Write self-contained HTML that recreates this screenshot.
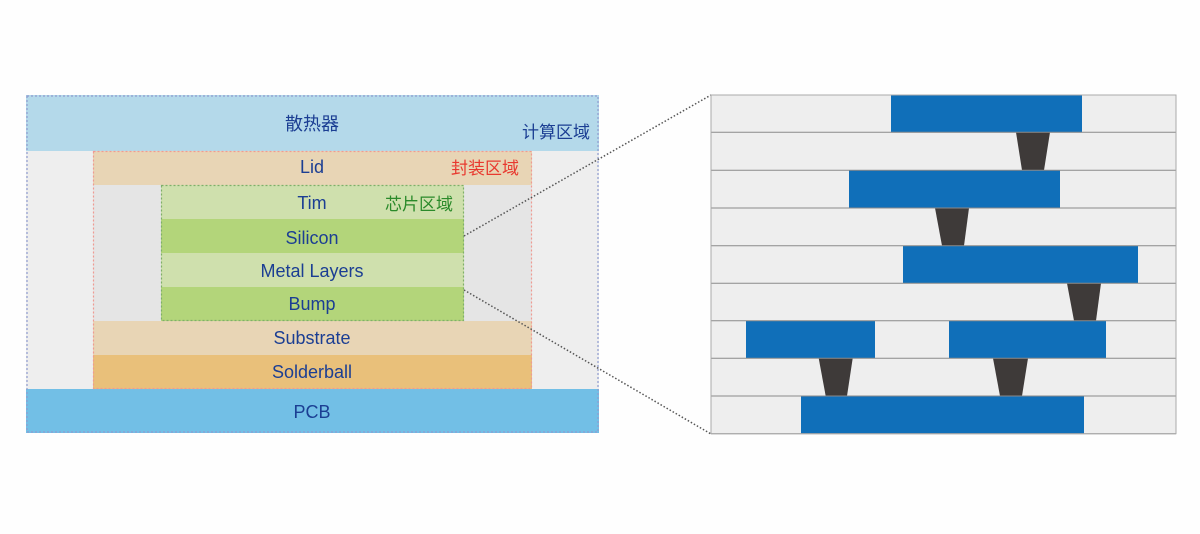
<!DOCTYPE html>
<html><head><meta charset="utf-8"><style>
html,body{margin:0;padding:0;background:#fefefe;width:1200px;height:534px;overflow:hidden}
text{font-family:"Liberation Sans","Noto Sans CJK SC",sans-serif}
</style></head><body>
<svg width="1200" height="534" viewBox="0 0 1200 534" xmlns="http://www.w3.org/2000/svg">
<!-- left diagram -->
<rect x="26" y="95" width="573" height="338" fill="#eeeeee"/>
<rect x="26" y="95" width="573" height="56" fill="#b4d9ea"/>
<rect x="93" y="151" width="439" height="238" fill="#e5e5e5"/>
<rect x="93" y="151" width="439" height="34" fill="#e8d5b5"/>
<rect x="161" y="185" width="303" height="34" fill="#cfe0ad"/>
<rect x="161" y="219" width="303" height="34" fill="#b3d57a"/>
<rect x="161" y="253" width="303" height="34" fill="#cfe0ad"/>
<rect x="161" y="287" width="303" height="34" fill="#b3d57a"/>
<rect x="93" y="321" width="439" height="34" fill="#e8d5b5"/>
<rect x="93" y="355" width="439" height="34" fill="#e9c07a"/>
<rect x="26" y="389" width="573" height="44" fill="#72bfe6"/>
<!-- dotted region borders -->
<rect x="27" y="96" width="571" height="336" fill="none" stroke="#8f9ccf" stroke-width="1.2" stroke-dasharray="2,2"/>
<rect x="93.5" y="151.5" width="438" height="237" fill="none" stroke="#ef9a93" stroke-width="1.2" stroke-dasharray="2,2"/>
<rect x="161.5" y="185.5" width="302" height="135" fill="none" stroke="#7fae6a" stroke-width="1.2" stroke-dasharray="2,2"/>
<g fill="#1b3e93" font-size="18" text-anchor="middle">
<text x="312" y="130">散热器</text>
<text x="312" y="173">Lid</text>
<text x="312" y="209">Tim</text>
<text x="312" y="244">Silicon</text>
<text x="312" y="277">Metal Layers</text>
<text x="312" y="310">Bump</text>
<text x="312" y="344">Substrate</text>
<text x="312" y="378">Solderball</text>
<text x="312" y="418">PCB</text>
</g>
<text x="556" y="138" font-size="17" fill="#1b3e93" text-anchor="middle">计算区域</text>
<text x="485" y="174" font-size="17" fill="#e8392f" text-anchor="middle">封装区域</text>
<text x="419" y="210" font-size="17" fill="#2a8a2a" text-anchor="middle">芯片区域</text>
<!-- connectors -->
<line x1="464" y1="236" x2="711" y2="95" stroke="#555" stroke-width="1.5" stroke-dasharray="1.5,2"/>
<line x1="464" y1="290" x2="711" y2="434" stroke="#555" stroke-width="1.5" stroke-dasharray="1.5,2"/>
<!-- right panel -->
<rect x="711" y="95" width="465" height="339" fill="#eeeeee"/>
<g fill="#106fb9">
<rect x="891" y="95" width="191" height="37.6"/>
<rect x="849" y="170.3" width="211" height="37.6"/>
<rect x="903" y="245.7" width="235" height="37.6"/>
<rect x="746" y="320.7" width="129" height="37.6"/>
<rect x="949" y="320.7" width="157" height="37.6"/>
<rect x="801" y="396" width="283" height="37.7"/>
</g>
<g fill="#3e3a39">
<polygon points="1016,132.3 1050,132.3 1044,170.3 1022,170.3"/>
<polygon points="935,208 969,208 964,245.7 942,245.7"/>
<polygon points="1067,283.3 1101,283.3 1096,320.7 1074,320.7"/>
<polygon points="818.7,358.3 852.7,358.3 847,396 825.7,396"/>
<polygon points="993,358.3 1028,358.3 1022,396 1000,396"/>
</g>
<g stroke="#8a8a8a" stroke-width="1">
<line x1="711" y1="95" x2="1176" y2="95"/>
<line x1="711" y1="132.3" x2="1176" y2="132.3"/>
<line x1="711" y1="170.3" x2="1176" y2="170.3"/>
<line x1="711" y1="208" x2="1176" y2="208"/>
<line x1="711" y1="245.7" x2="1176" y2="245.7"/>
<line x1="711" y1="283.3" x2="1176" y2="283.3"/>
<line x1="711" y1="320.7" x2="1176" y2="320.7"/>
<line x1="711" y1="358.3" x2="1176" y2="358.3"/>
<line x1="711" y1="396" x2="1176" y2="396"/>
<line x1="711" y1="433.7" x2="1176" y2="433.7"/>
</g>
<rect x="711" y="95" width="465" height="338.7" fill="none" stroke="#aaa" stroke-width="1"/>
</svg>
</body></html>
